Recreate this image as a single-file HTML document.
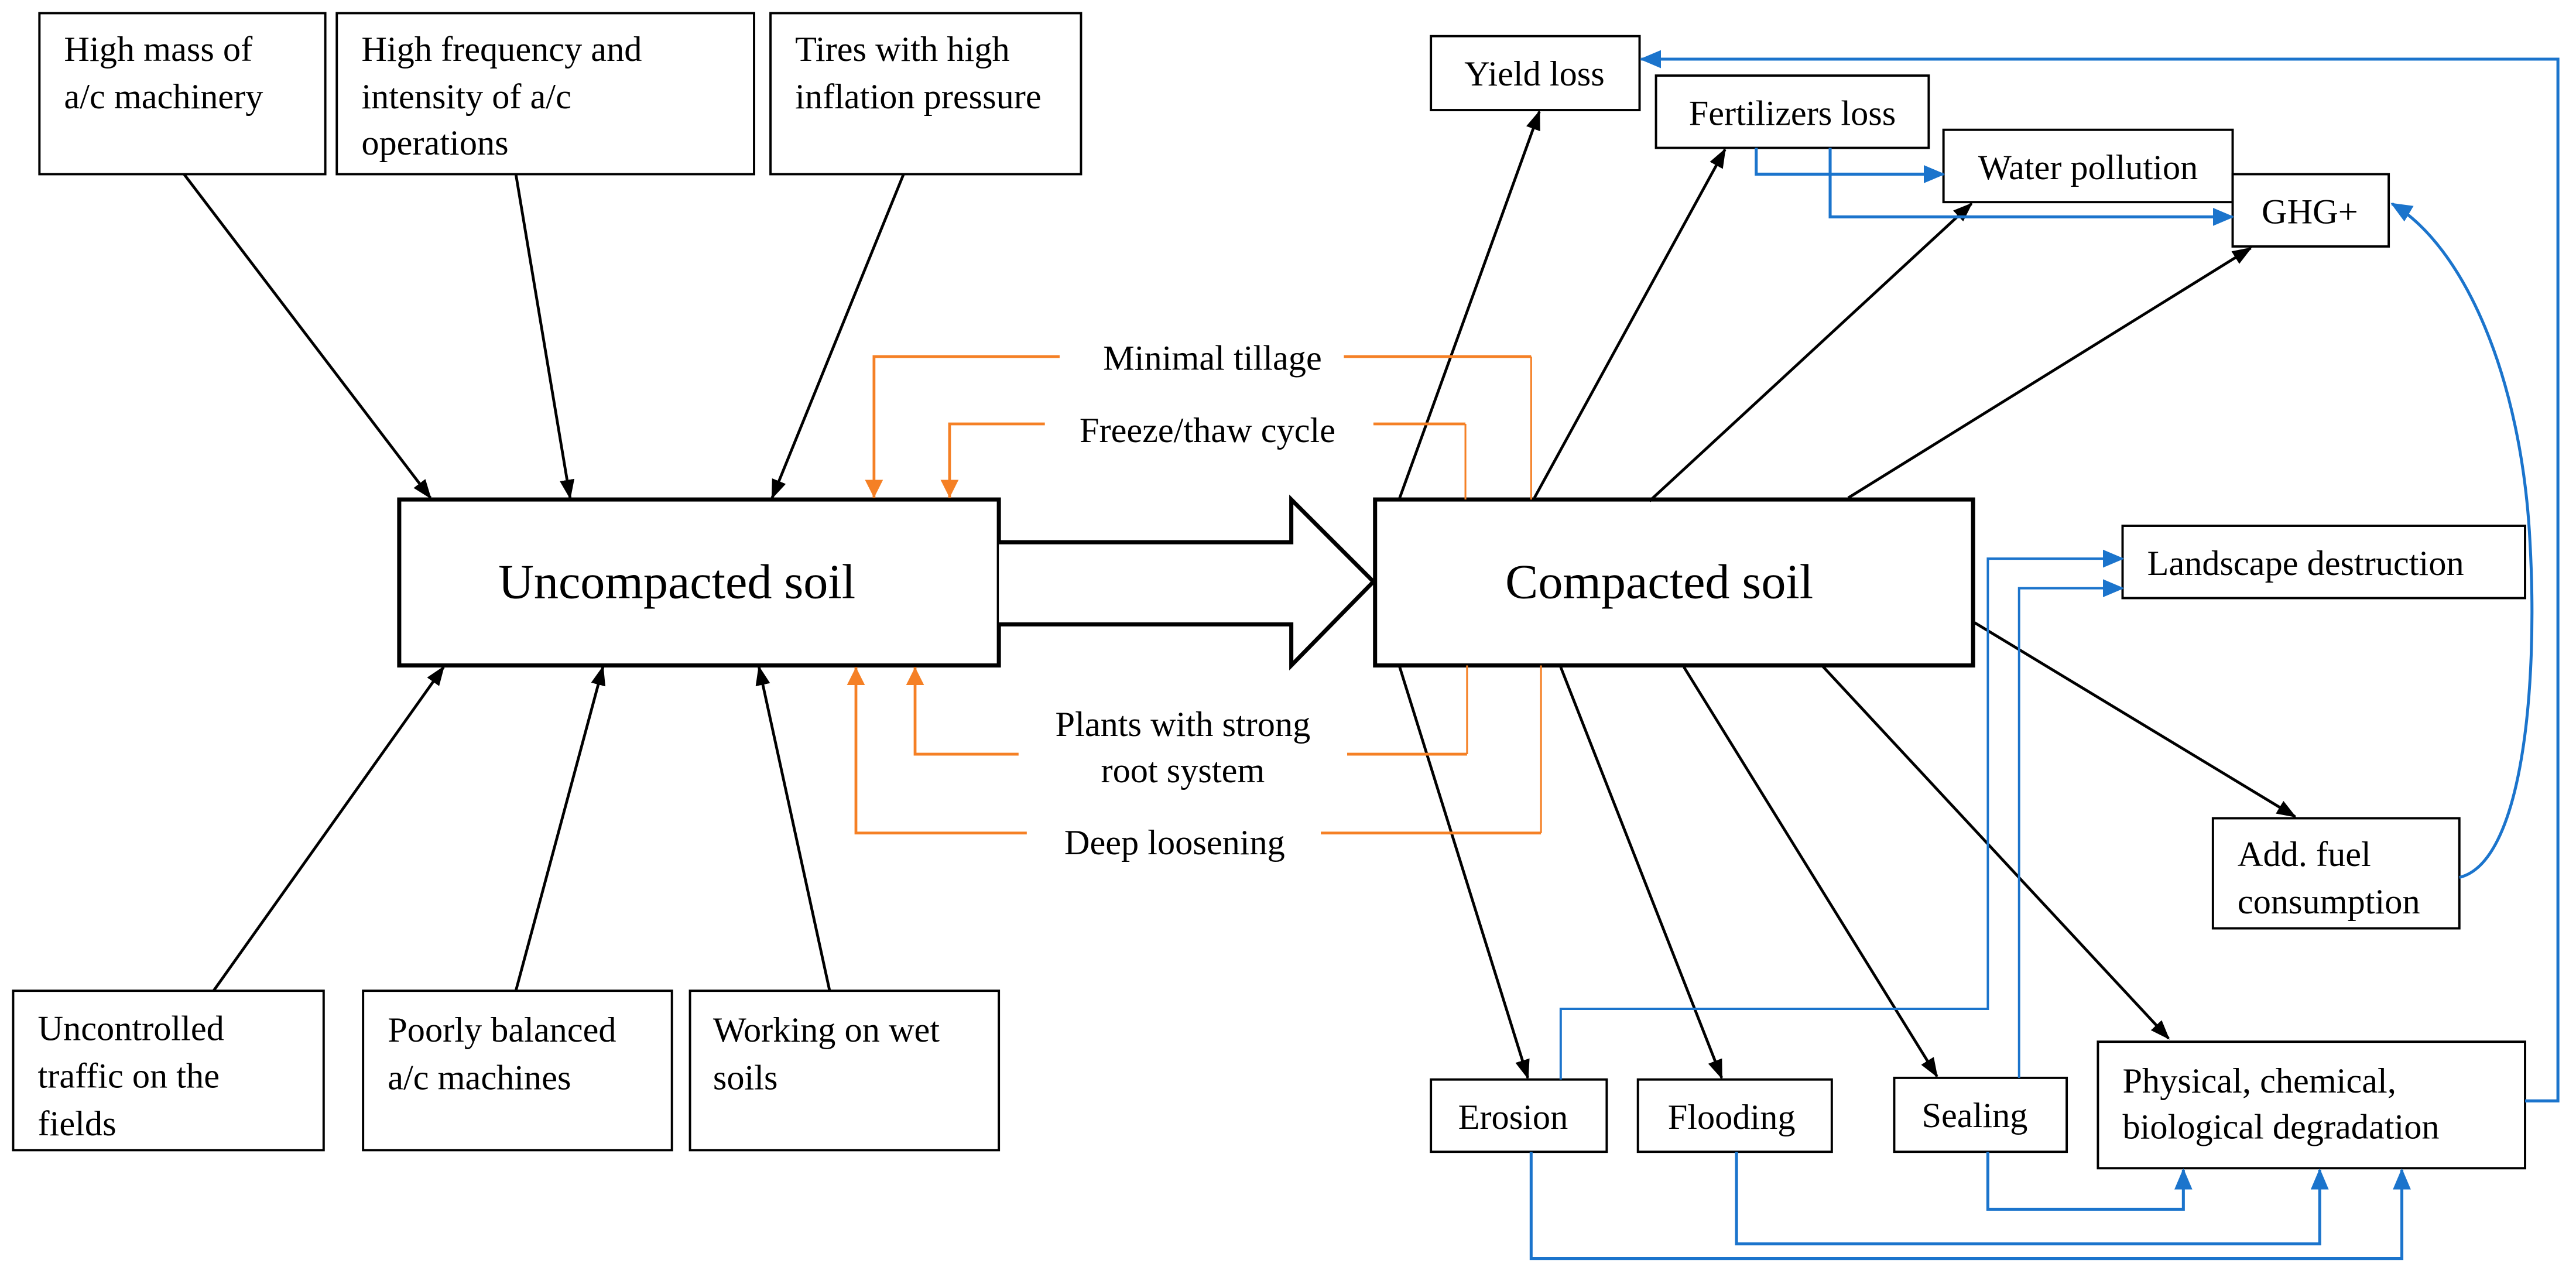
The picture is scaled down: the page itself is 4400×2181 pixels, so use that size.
<!DOCTYPE html>
<html><head><meta charset="utf-8"><style>html,body{margin:0;padding:0;background:#fff}svg{display:block}</style></head>
<body>
<svg width="4400" height="2181" viewBox="0 0 1568 777.2" preserveAspectRatio="none" xmlns="http://www.w3.org/2000/svg" font-family="Liberation Serif, serif" font-size="21.5">
<defs>
<marker id="ak" markerWidth="12" markerHeight="10" refX="11" refY="5" orient="auto" markerUnits="userSpaceOnUse" viewBox="0 0 12 10"><path d="M0,0.5 L12,5 L0,9.5 Z" fill="#000"/></marker>
<marker id="ab" markerWidth="13" markerHeight="11" refX="12" refY="5.5" orient="auto" markerUnits="userSpaceOnUse" viewBox="0 0 13 11"><path d="M0,0 L13,5.5 L0,11 Z" fill="#1b74cc"/></marker>
<marker id="ao" markerWidth="11" markerHeight="11" refX="11" refY="5.5" orient="auto" markerUnits="userSpaceOnUse" viewBox="0 0 11 11"><path d="M0,0 L11,5.5 L0,11 Z" fill="#f58025"/></marker>
</defs>
<g fill="#fff" stroke="#000" stroke-width="1.4">
<rect x="24" y="8" width="174" height="98"/>
<rect x="205" y="8" width="254" height="98"/>
<rect x="469" y="8" width="189" height="98"/>
<rect x="8" y="603" width="189" height="97"/>
<rect x="221" y="603" width="188" height="97"/>
<rect x="420" y="603" width="188" height="97"/>
<rect x="871" y="22" width="127" height="45"/>
<rect x="1008" y="46" width="166" height="44"/>
<rect x="1183" y="79" width="176" height="44"/>
<rect x="1359" y="106" width="95" height="44"/>
<rect x="1292" y="320" width="245" height="44"/>
<rect x="1347" y="498" width="150" height="67"/>
<rect x="871" y="657" width="107" height="44"/>
<rect x="997" y="657" width="118" height="44"/>
<rect x="1153" y="656" width="105" height="45"/>
<rect x="1277" y="634" width="260" height="77"/>
</g>
<g fill="#fff" stroke="#000" stroke-width="2.5">
<rect x="243" y="304" width="365" height="101"/>
<rect x="837" y="304" width="364" height="101"/>
<path d="M608,330 L786,330 L786,304 L836,354 L786,405 L786,380 L608,380"/>
</g>
<g stroke="#000" stroke-width="1.7" fill="none" marker-end="url(#ak)">
<line x1="112" y1="106" x2="262" y2="303"/>
<line x1="314" y1="106" x2="347" y2="303"/>
<line x1="550" y1="106" x2="470" y2="303"/>
<line x1="130" y1="603" x2="270" y2="406"/>
<line x1="314" y1="603" x2="367" y2="406"/>
<line x1="505" y1="603" x2="462" y2="406"/>
<line x1="852" y1="303" x2="937" y2="68"/>
<line x1="934" y1="303" x2="1050" y2="91"/>
<line x1="1004" y1="305" x2="1200" y2="124"/>
<line x1="1125" y1="303" x2="1370" y2="151"/>
<line x1="1202" y1="379" x2="1397" y2="497"/>
<line x1="852" y1="406" x2="930" y2="656"/>
<line x1="950" y1="406" x2="1048" y2="656"/>
<line x1="1025" y1="406" x2="1179" y2="655"/>
<line x1="1109" y1="405" x2="1320" y2="632"/>
</g>
<g stroke="#f58025" stroke-width="1.7" fill="none">
<path d="M645,217 L532,217 L532,303" marker-end="url(#ao)"/>
<path d="M636,258 L578,258 L578,303" marker-end="url(#ao)"/>
<path d="M620,459 L557,459 L557,406" marker-end="url(#ao)"/>
<path d="M625,507 L521,507 L521,406" marker-end="url(#ao)"/>
</g>
<g stroke="#f58025" stroke-width="1.7" fill="none">
<path d="M818,217 L932,217"/><path d="M932,217 L932,304" stroke-width="1.1"/>
<path d="M836,258 L892,258"/><path d="M892,258 L892,304" stroke-width="1.1"/>
<path d="M820,459 L893,459"/><path d="M893,459 L893,405" stroke-width="1.1"/>
<path d="M804,507 L938,507"/><path d="M938,507 L938,405" stroke-width="1.1"/>
</g>
<g stroke="#1b74cc" stroke-width="1.8" fill="none">
<path d="M1537,670 L1557,670 L1557,36 L999,36" marker-end="url(#ab)"/>
<path d="M1069,90 L1069,106 L1183,106" marker-end="url(#ab)"/>
<path d="M1114,90 L1114,132 L1359,132" marker-end="url(#ab)"/>
<path d="M1497,534 C1535,525 1545,420 1540,330 C1535,230 1500,150 1456,124" marker-end="url(#ab)"/>
<path d="M950,657 L950,614 L1210,614 L1210,340 L1292,340" marker-end="url(#ab)" stroke-width="1.4"/>
<path d="M1229,656 L1229,358 L1292,358" marker-end="url(#ab)" stroke-width="1.4"/>
<path d="M1210,701 L1210,736 L1329,736 L1329,712" marker-end="url(#ab)"/>
<path d="M1057,701 L1057,757 L1412,757 L1412,712" marker-end="url(#ab)"/>
<path d="M932,701 L932,766 L1462,766 L1462,712" marker-end="url(#ab)"/>
</g>
<g fill="#000">
<text x="39" y="37">High mass of</text>
<text x="39" y="66">a/c machinery</text>
<text x="220" y="37">High frequency and</text>
<text x="220" y="66">intensity of a/c</text>
<text x="220" y="94">operations</text>
<text x="484" y="37">Tires with high</text>
<text x="484" y="66">inflation pressure</text>
<text x="23" y="633">Uncontrolled</text>
<text x="23" y="662">traffic on the</text>
<text x="23" y="691">fields</text>
<text x="236" y="634">Poorly balanced</text>
<text x="236" y="663">a/c machines</text>
<text x="434" y="634">Working on wet</text>
<text x="434" y="663">soils</text>
<text x="412" y="364" font-size="30" text-anchor="middle">Uncompacted soil</text>
<text x="1010" y="364" font-size="30" text-anchor="middle">Compacted soil</text>
<text x="738" y="225" text-anchor="middle">Minimal tillage</text>
<text x="735" y="269" text-anchor="middle">Freeze/thaw cycle</text>
<text x="720" y="448" text-anchor="middle">Plants with strong</text>
<text x="720" y="476" text-anchor="middle">root system</text>
<text x="715" y="520" text-anchor="middle">Deep loosening</text>
<text x="934" y="52" text-anchor="middle">Yield loss</text>
<text x="1091" y="76" text-anchor="middle">Fertilizers loss</text>
<text x="1271" y="109" text-anchor="middle">Water pollution</text>
<text x="1406" y="136" text-anchor="middle">GHG+</text>
<text x="1307" y="350">Landscape destruction</text>
<text x="1362" y="527">Add. fuel</text>
<text x="1362" y="556">consumption</text>
<text x="921" y="687" text-anchor="middle">Erosion</text>
<text x="1054" y="687" text-anchor="middle">Flooding</text>
<text x="1202" y="686" text-anchor="middle">Sealing</text>
<text x="1292" y="665">Physical, chemical,</text>
<text x="1292" y="693">biological degradation</text>
</g>
</svg>
</body></html>
